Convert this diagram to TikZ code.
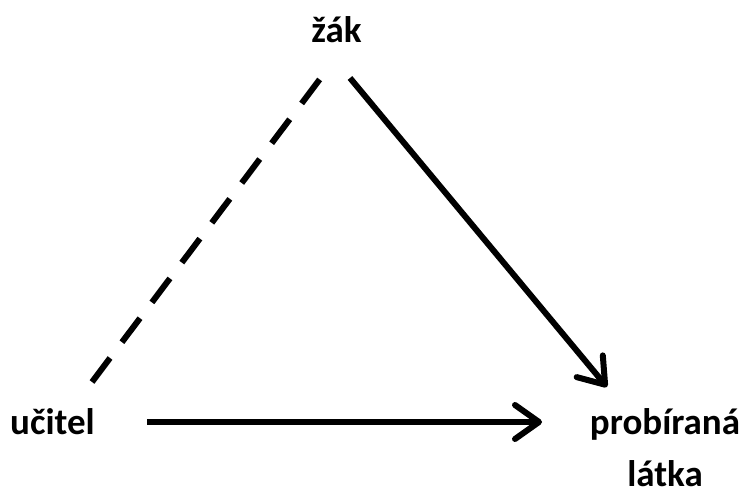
\documentclass[tikz,border=0pt]{standalone}
\usepackage{fontspec}
\setmainfont{Carlito}
\usetikzlibrary{arrows.meta, calc}

\begin{document}
\begin{tikzpicture}[
        x=1pt, y=1pt,
        term/.style={inner sep=0pt, anchor=base, font=\fontsize{37}{52}\selectfont\bfseries, align=center},
        link/.style={line width=6pt},
        dashlink/.style={link, dash pattern=on 30pt off 19.8pt},
        arrow/.style={link, -{Straight Barb[length=24pt, width=34pt, round]}}
    ]
        \useasboundingbox (0,0) rectangle (743,497);

        % Nodes
        \node[term] (zak) at (336.5,454) {žák};
        \node[term] (ucitel) at (52.5,62) {učitel};
        \node[term] (latka) at (665,10) {probíraná\\látka};

        % Arrows
        \draw[dashlink] ($(ucitel.base)+(39.5,53)$) -- ($(zak.base)+(-16.5,-36)$);
        \draw[arrow] ($(zak.base)+(13.5,-35)$) -- ($(latka.base)+(-58,100)$);
        \draw[arrow] ($(ucitel.base)+(94.5,13)$) -- ($(latka.base)+(-123,65)$);
    \end{tikzpicture}
\end{document}
